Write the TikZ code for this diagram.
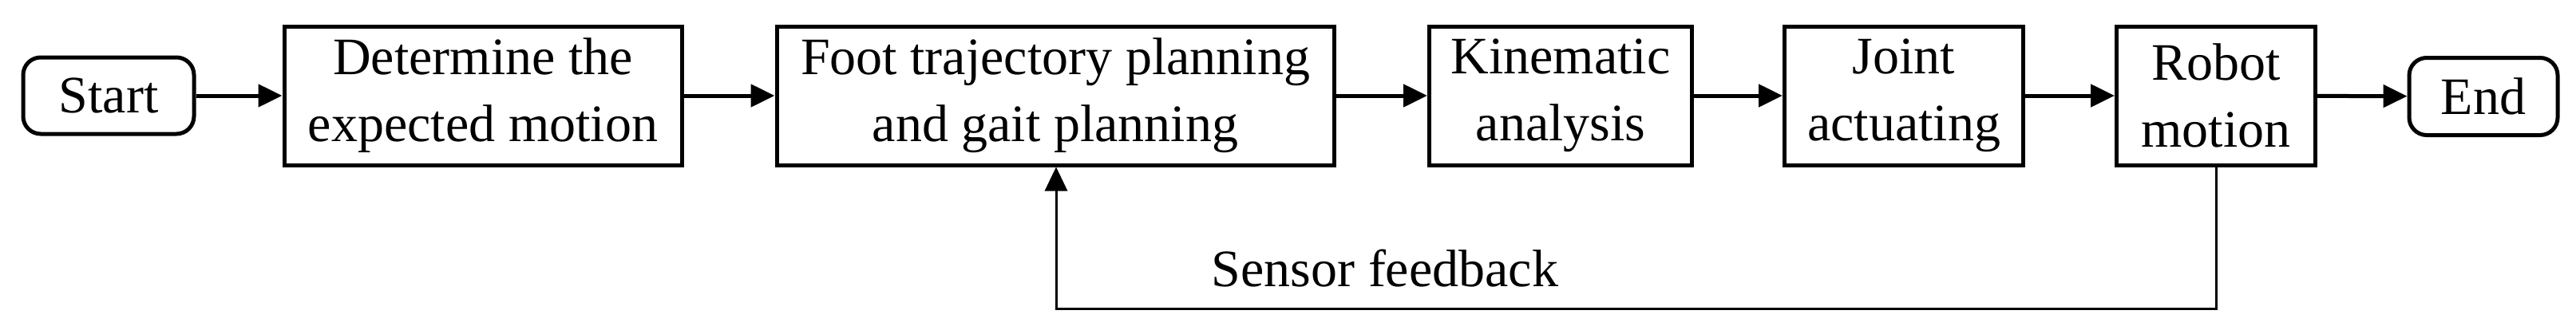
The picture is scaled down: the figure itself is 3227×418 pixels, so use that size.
\documentclass[tikz,border=0pt]{standalone}
\usepackage{fontspec}
\setmainfont{Liberation Serif}
\usetikzlibrary{arrows.meta}
\begin{document}
\begin{tikzpicture}[x=1pt,y=-1pt,
  box/.style={draw,line width=5pt,inner sep=0pt,align=center,font=\fontsize{66}{84}\selectfont},
  term/.style={box,rounded corners=22pt},
  arr/.style={line width=5pt,-{Triangle[length=30pt,width=28pt]}}]
\useasboundingbox (0,0) rectangle (3227,418);
\node[term,minimum width=214pt,minimum height=96pt] (s) at (136,120) {Start};
\node[box,minimum width=498pt,minimum height=174pt] (d) at (605,120) {Determine the\\expected motion};
\node[box,minimum width=698pt,minimum height=174pt] (f) at (1322,120) {Foot trajectory planning\\and gait planning};
\node[box,minimum width=329pt,minimum height=174pt] (k) at (1955,120) {Kinematic\\analysis};
\node[box,minimum width=299pt,minimum height=174pt] (j) at (2385,120) {Joint\\actuating};
\node[box,minimum width=249pt,minimum height=174pt] (r) at (2776,120) {Robot\\motion};
\node[term,minimum width=186pt,minimum height=97pt] (e) at (3111,121) {End};
\draw[arr] (s) -- (d);
\draw[arr] (d) -- (f);
\draw[arr] (f) -- (k);
\draw[arr] (k) -- (j);
\draw[arr] (j) -- (r);
\draw[arr] (r) -- (e);
\coordinate (c1) at (2776,387);
\coordinate (c2) at (1323,387);
\draw[line width=3pt,-{Triangle[length=30pt,width=28pt]}] (r.south) -- (c1) -- (c2) -- (c2 |- f.south);
\node[font=\fontsize{66}{84}\selectfont] (l) at (1735,337) {Sensor feedback};
\end{tikzpicture}
\end{document}
